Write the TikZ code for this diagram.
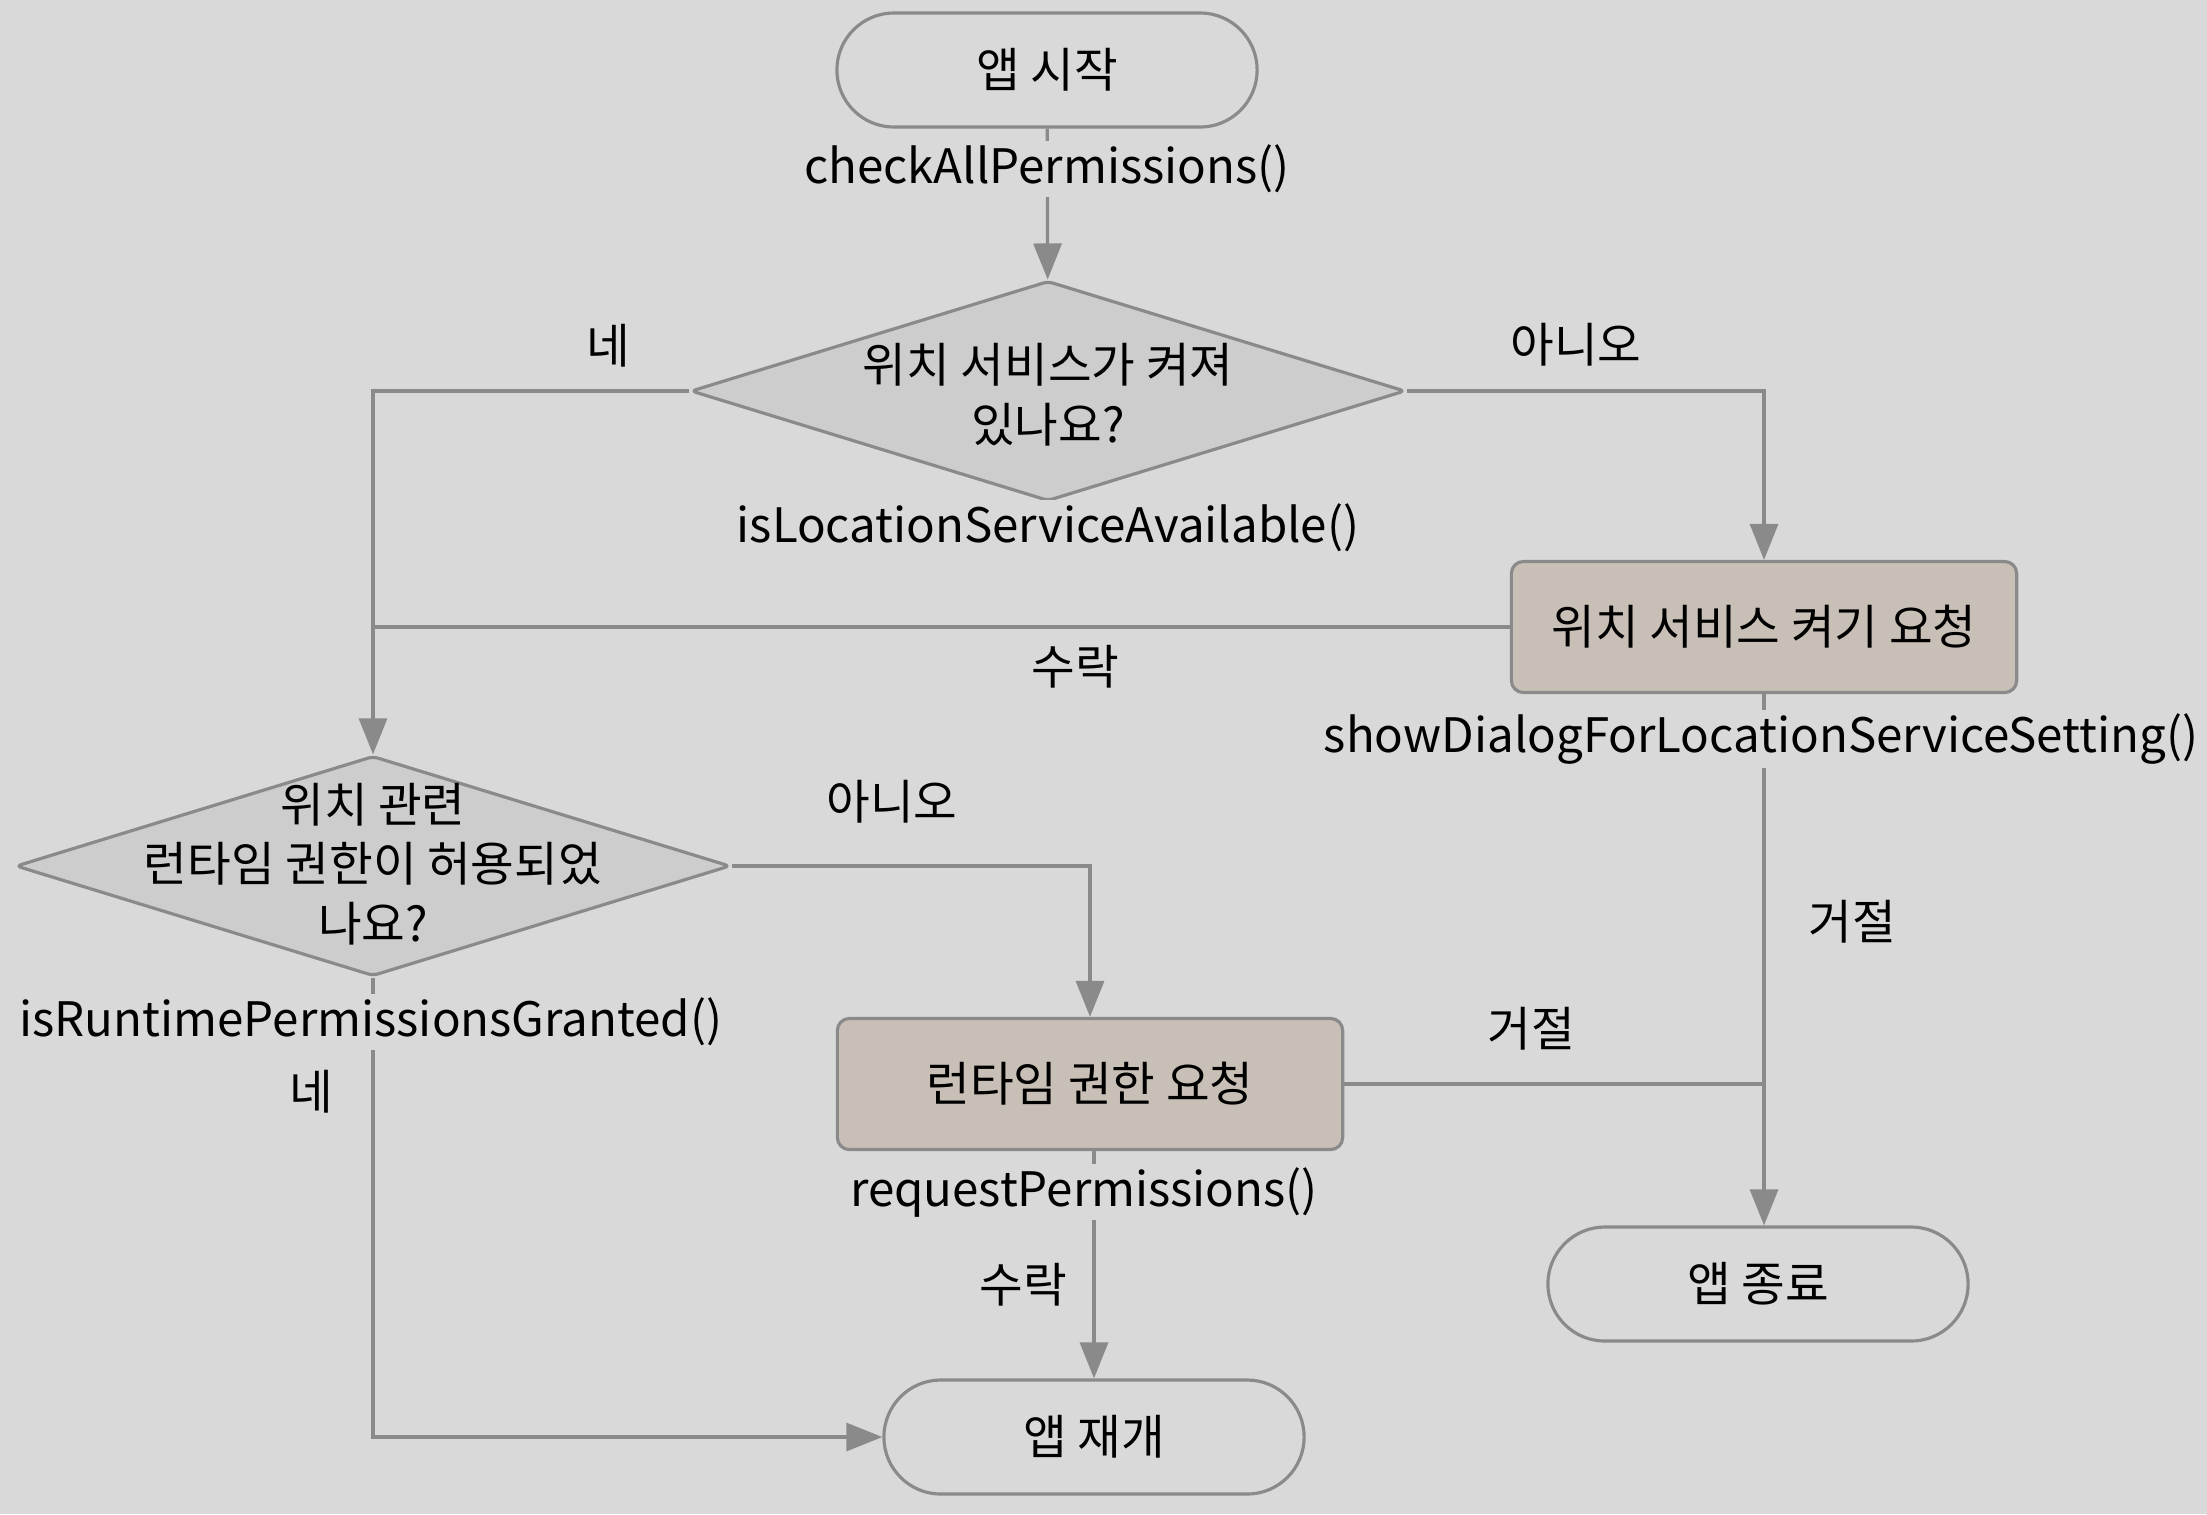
\documentclass[tikz,border=0pt]{standalone}
\usepackage{fontspec}
\setmainfont{Noto Sans CJK KR}
\usetikzlibrary{arrows.meta,positioning,shapes.geometric,calc}

\definecolor{bggray}{RGB}{217,217,217}
\definecolor{diagray}{RGB}{205,205,205}
\definecolor{boxtan}{RGB}{200,192,182}
\definecolor{linegray}{RGB}{138,138,138}

\newcommand{\flowfont}{\fontsize{13.5}{17}\selectfont}

\begin{document}
\begin{tikzpicture}[x=0.01cm, y=-0.01cm,
  terminal/.style={draw=linegray, line width=0.9pt, rounded corners=0.57cm, minimum width=4.2cm, minimum height=1.14cm, font=\flowfont},
  decision/.style={diamond, draw=linegray, fill=diagray, line width=0.9pt, minimum width=7.14cm, minimum height=2.2cm, inner sep=0pt, rounded corners=0.05cm},
  question/.style={align=center, font=\flowfont},
  process/.style={draw=linegray, fill=boxtan, line width=0.9pt, rounded corners=0.12cm, minimum width=5.05cm, minimum height=1.31cm, font=\flowfont},
  call/.style={fill=bggray, inner sep=1pt, font=\flowfont},
  answer/.style={font=\flowfont},
  link/.style={draw=linegray, line width=0.9pt},
  arrow/.style={link, -{Triangle[length=0.36cm, width=0.28cm]}},
]

% background
\fill[bggray] (0,0) rectangle (2207,1514);
\useasboundingbox (0,0) rectangle (2207,1514);

% nodes
\node[terminal] (start) at (1047,70) {앱 시작};
\node[decision] (locOn) at (1048,391) {};
\node[question] (locOnText) at (1048,395) {위치 서비스가 켜져\\있나요?};
\node[process] (askLoc) at (1764,627) {위치 서비스 켜기 요청};
\node[decision] (permOk) at (373,866) {};
\node[question] (permOkText) at (373,864) {위치 관련\\런타임 권한이 허용되었\\나요?};
\node[process] (askPerm) at (1090,1084) {런타임 권한 요청};
\node[terminal] (resume) at (1094,1437) {앱 재개};
\node[terminal] (quit) at (1758,1284) {앱 종료};

% connectors
\draw[arrow] (start) -- (locOn);
\draw[arrow] (locOn.west) -| (permOk.north);
\draw[arrow] (locOn.east) -| (askLoc.north);
\draw[link] (askLoc.west) -- (askLoc.west -| permOk.north);
\draw[arrow] (askLoc.south) -- (askLoc.south |- quit.north);
\draw[arrow] (permOk.east) -| (askPerm.north);
\draw[link] (askPerm.east) -- (askPerm.east -| askLoc.south);
\draw[arrow] (permOk.south) |- (resume.west);
\draw[arrow] (askPerm.south -| resume.north) -- (resume.north);

% method calls
\node[call] (callCheck) at (1047,169) {checkAllPermissions()};
\node[call] (callLoc) at (1048,528) {isLocationServiceAvailable()};
\node[call] (callDialog) at (1761,739) {showDialogForLocationServiceSetting()};
\node[call] (callRuntime) at (371,1022) {isRuntimePermissionsGranted()};
\node[call] (callRequest) at (1084,1192) {requestPermissions()};

% answers
\node[answer] (yes1) at (608,346) {네};
\node[answer] (no1) at (1576,345) {아니오};
\node[answer] (ok1) at (1075,667) {수락};
\node[answer] (deny1) at (1852,922) {거절};
\node[answer] (no2) at (892,802) {아니오};
\node[answer] (yes2) at (311,1092) {네};
\node[answer] (deny2) at (1531,1029) {거절};
\node[answer] (ok2) at (1023,1285) {수락};

\end{tikzpicture}
\end{document}
